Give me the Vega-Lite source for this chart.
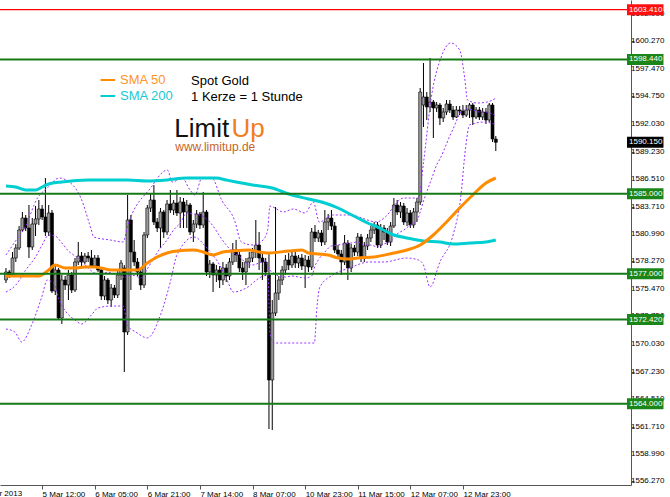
{
  "$schema": "https://vega.github.io/schema/vega-lite/v6.json",
  "width": 631,
  "height": 485,
  "autosize": {"type": "none"},
  "padding": {"left": 0, "top": 0, "right": 39, "bottom": 12},
  "background": "white",
  "config": {"view": {"stroke": null}, "font": "Liberation Sans", "axis": {"labelOverlap": false, "labelBound": false, "labelFlush": false}},
  "resolve": {"scale": {"color": "independent"}},
  "datasets": {
    "candles": [
      {"i":0,"o":1576.38,"h":1577.58,"l":1576.08,"c":1577.18},
      {"i":1,"o":1577.18,"h":1577.38,"l":1576.58,"c":1576.88},
      {"i":2,"o":1576.88,"h":1579.18,"l":1576.68,"c":1578.58},
      {"i":3,"o":1578.58,"h":1579.98,"l":1578.18,"c":1579.58},
      {"i":4,"o":1579.58,"h":1581.78,"l":1579.38,"c":1581.38},
      {"i":5,"o":1581.38,"h":1583.18,"l":1581.18,"c":1582.58},
      {"i":6,"o":1582.58,"h":1582.88,"l":1581.28,"c":1581.58},
      {"i":7,"o":1581.58,"h":1583.88,"l":1578.58,"c":1579.68},
      {"i":8,"o":1579.68,"h":1582.58,"l":1579.38,"c":1581.98},
      {"i":9,"o":1581.98,"h":1583.78,"l":1580.78,"c":1582.48},
      {"i":10,"o":1582.48,"h":1584.38,"l":1581.88,"c":1583.48},
      {"i":11,"o":1583.48,"h":1583.88,"l":1582.38,"c":1582.68},
      {"i":12,"o":1582.68,"h":1586.58,"l":1580.78,"c":1581.18},
      {"i":13,"o":1581.18,"h":1583.88,"l":1580.78,"c":1583.08},
      {"i":14,"o":1583.08,"h":1583.38,"l":1575.08,"c":1575.28},
      {"i":15,"o":1575.28,"h":1577.78,"l":1574.88,"c":1577.38},
      {"i":16,"o":1577.38,"h":1577.58,"l":1572.38,"c":1572.58},
      {"i":17,"o":1572.58,"h":1576.88,"l":1571.98,"c":1576.38},
      {"i":18,"o":1576.38,"h":1576.78,"l":1575.38,"c":1575.88},
      {"i":19,"o":1575.88,"h":1577.38,"l":1574.38,"c":1576.88},
      {"i":20,"o":1576.88,"h":1577.18,"l":1575.08,"c":1575.38},
      {"i":21,"o":1575.38,"h":1578.58,"l":1575.18,"c":1578.18},
      {"i":22,"o":1578.18,"h":1580.18,"l":1577.88,"c":1578.78},
      {"i":23,"o":1578.78,"h":1579.18,"l":1577.78,"c":1578.18},
      {"i":24,"o":1578.18,"h":1579.08,"l":1577.98,"c":1578.78},
      {"i":25,"o":1578.78,"h":1579.18,"l":1578.18,"c":1578.58},
      {"i":26,"o":1578.58,"h":1579.38,"l":1577.58,"c":1577.78},
      {"i":27,"o":1577.78,"h":1578.88,"l":1577.58,"c":1578.58},
      {"i":28,"o":1578.58,"h":1578.88,"l":1577.18,"c":1577.38},
      {"i":29,"o":1577.38,"h":1577.58,"l":1574.38,"c":1574.78},
      {"i":30,"o":1574.78,"h":1576.78,"l":1574.38,"c":1576.38},
      {"i":31,"o":1576.38,"h":1576.58,"l":1573.98,"c":1574.38},
      {"i":32,"o":1574.38,"h":1575.98,"l":1573.68,"c":1575.58},
      {"i":33,"o":1575.58,"h":1575.88,"l":1574.58,"c":1574.88},
      {"i":34,"o":1574.88,"h":1577.38,"l":1574.58,"c":1576.88},
      {"i":35,"o":1576.88,"h":1578.38,"l":1576.38,"c":1578.08},
      {"i":36,"o":1577.58,"h":1577.88,"l":1567.18,"c":1571.18},
      {"i":37,"o":1571.18,"h":1584.88,"l":1570.88,"c":1582.38},
      {"i":38,"o":1582.38,"h":1582.88,"l":1575.38,"c":1579.18},
      {"i":39,"o":1579.18,"h":1580.38,"l":1577.78,"c":1578.18},
      {"i":40,"o":1578.18,"h":1578.58,"l":1576.78,"c":1577.18},
      {"i":41,"o":1577.18,"h":1577.58,"l":1575.38,"c":1575.88},
      {"i":42,"o":1575.88,"h":1581.18,"l":1575.58,"c":1580.88},
      {"i":43,"o":1580.88,"h":1583.88,"l":1580.58,"c":1583.58},
      {"i":44,"o":1583.58,"h":1585.08,"l":1583.18,"c":1584.38},
      {"i":45,"o":1584.38,"h":1585.88,"l":1581.88,"c":1582.18},
      {"i":46,"o":1582.18,"h":1582.58,"l":1581.18,"c":1581.58},
      {"i":47,"o":1581.58,"h":1583.58,"l":1579.58,"c":1583.18},
      {"i":48,"o":1583.18,"h":1583.38,"l":1580.58,"c":1581.18},
      {"i":49,"o":1581.18,"h":1584.38,"l":1580.88,"c":1583.98},
      {"i":50,"o":1583.98,"h":1585.38,"l":1583.08,"c":1583.38},
      {"i":51,"o":1583.38,"h":1584.38,"l":1582.88,"c":1584.08},
      {"i":52,"o":1584.08,"h":1585.38,"l":1582.78,"c":1583.08},
      {"i":53,"o":1583.08,"h":1584.68,"l":1581.58,"c":1584.18},
      {"i":54,"o":1584.18,"h":1584.58,"l":1581.58,"c":1583.18},
      {"i":55,"o":1583.18,"h":1584.38,"l":1581.58,"c":1583.88},
      {"i":56,"o":1583.88,"h":1584.08,"l":1580.88,"c":1581.18},
      {"i":57,"o":1581.18,"h":1582.38,"l":1580.18,"c":1581.98},
      {"i":58,"o":1581.98,"h":1583.38,"l":1581.58,"c":1582.98},
      {"i":59,"o":1582.98,"h":1583.18,"l":1581.48,"c":1581.88},
      {"i":60,"o":1581.88,"h":1585.18,"l":1581.58,"c":1583.18},
      {"i":61,"o":1583.18,"h":1583.38,"l":1576.78,"c":1577.18},
      {"i":62,"o":1577.18,"h":1578.38,"l":1576.58,"c":1577.98},
      {"i":63,"o":1577.98,"h":1578.18,"l":1575.18,"c":1576.88},
      {"i":64,"o":1576.88,"h":1577.88,"l":1576.18,"c":1577.38},
      {"i":65,"o":1577.38,"h":1577.78,"l":1575.58,"c":1576.38},
      {"i":66,"o":1576.38,"h":1578.18,"l":1575.88,"c":1577.58},
      {"i":67,"o":1577.58,"h":1577.98,"l":1576.18,"c":1576.78},
      {"i":68,"o":1576.78,"h":1578.58,"l":1576.38,"c":1578.18},
      {"i":69,"o":1578.18,"h":1580.08,"l":1577.88,"c":1579.38},
      {"i":70,"o":1579.38,"h":1580.38,"l":1578.18,"c":1578.88},
      {"i":71,"o":1578.88,"h":1579.38,"l":1577.18,"c":1577.58},
      {"i":72,"o":1577.58,"h":1578.18,"l":1576.38,"c":1577.18},
      {"i":73,"o":1577.18,"h":1578.58,"l":1575.88,"c":1578.18},
      {"i":74,"o":1578.18,"h":1579.18,"l":1577.58,"c":1578.58},
      {"i":75,"o":1578.58,"h":1579.58,"l":1578.18,"c":1579.18},
      {"i":76,"o":1579.18,"h":1582.38,"l":1578.58,"c":1579.88},
      {"i":77,"o":1579.88,"h":1581.18,"l":1577.38,"c":1578.58},
      {"i":78,"o":1578.58,"h":1578.98,"l":1576.38,"c":1578.18},
      {"i":79,"o":1578.18,"h":1578.58,"l":1576.78,"c":1577.18},
      {"i":80,"o":1576.88,"h":1579.08,"l":1561.48,"c":1566.38},
      {"i":81,"o":1566.38,"h":1574.38,"l":1561.38,"c":1573.08},
      {"i":82,"o":1573.08,"h":1583.68,"l":1572.78,"c":1575.08},
      {"i":83,"o":1575.08,"h":1576.78,"l":1574.38,"c":1576.38},
      {"i":84,"o":1576.38,"h":1577.78,"l":1575.88,"c":1577.38},
      {"i":85,"o":1577.38,"h":1578.88,"l":1576.88,"c":1578.38},
      {"i":86,"o":1578.38,"h":1579.08,"l":1577.38,"c":1577.88},
      {"i":87,"o":1577.88,"h":1579.18,"l":1577.58,"c":1578.78},
      {"i":88,"o":1578.78,"h":1579.18,"l":1577.58,"c":1578.08},
      {"i":89,"o":1578.08,"h":1578.88,"l":1577.58,"c":1578.58},
      {"i":90,"o":1578.58,"h":1578.98,"l":1577.38,"c":1577.78},
      {"i":91,"o":1577.78,"h":1578.88,"l":1575.58,"c":1578.38},
      {"i":92,"o":1578.38,"h":1578.78,"l":1577.18,"c":1577.68},
      {"i":93,"o":1577.68,"h":1581.58,"l":1577.38,"c":1581.18},
      {"i":94,"o":1581.18,"h":1581.88,"l":1580.18,"c":1580.58},
      {"i":95,"o":1580.58,"h":1581.38,"l":1580.18,"c":1581.08},
      {"i":96,"o":1581.08,"h":1581.38,"l":1579.78,"c":1580.18},
      {"i":97,"o":1580.18,"h":1583.38,"l":1579.88,"c":1582.18},
      {"i":98,"o":1582.18,"h":1582.98,"l":1581.38,"c":1582.58},
      {"i":99,"o":1582.58,"h":1583.38,"l":1581.38,"c":1581.78},
      {"i":100,"o":1581.78,"h":1582.18,"l":1579.08,"c":1579.38},
      {"i":101,"o":1579.38,"h":1579.88,"l":1578.58,"c":1578.98},
      {"i":102,"o":1578.98,"h":1579.38,"l":1576.88,"c":1578.18},
      {"i":103,"o":1578.18,"h":1580.88,"l":1577.88,"c":1580.08},
      {"i":104,"o":1580.08,"h":1580.38,"l":1576.38,"c":1577.58},
      {"i":105,"o":1577.58,"h":1579.98,"l":1577.18,"c":1579.58},
      {"i":106,"o":1579.58,"h":1579.88,"l":1578.78,"c":1579.18},
      {"i":107,"o":1579.18,"h":1581.08,"l":1578.78,"c":1580.68},
      {"i":108,"o":1580.68,"h":1580.98,"l":1578.18,"c":1578.58},
      {"i":109,"o":1578.58,"h":1580.18,"l":1578.18,"c":1579.78},
      {"i":110,"o":1579.78,"h":1580.98,"l":1579.38,"c":1580.58},
      {"i":111,"o":1580.58,"h":1581.78,"l":1580.18,"c":1581.38},
      {"i":112,"o":1581.38,"h":1582.18,"l":1580.98,"c":1581.88},
      {"i":113,"o":1581.88,"h":1582.18,"l":1579.58,"c":1579.88},
      {"i":114,"o":1579.88,"h":1581.98,"l":1579.58,"c":1581.58},
      {"i":115,"o":1581.58,"h":1581.88,"l":1580.38,"c":1581.18},
      {"i":116,"o":1581.18,"h":1581.58,"l":1579.88,"c":1580.18},
      {"i":117,"o":1580.18,"h":1582.18,"l":1579.78,"c":1581.78},
      {"i":118,"o":1581.78,"h":1584.58,"l":1581.58,"c":1583.88},
      {"i":119,"o":1583.88,"h":1584.38,"l":1582.88,"c":1583.18},
      {"i":120,"o":1583.18,"h":1584.18,"l":1582.58,"c":1583.78},
      {"i":121,"o":1583.78,"h":1584.08,"l":1581.88,"c":1582.18},
      {"i":122,"o":1582.18,"h":1583.58,"l":1581.78,"c":1583.08},
      {"i":123,"o":1583.08,"h":1583.38,"l":1581.58,"c":1581.88},
      {"i":124,"o":1581.88,"h":1583.58,"l":1581.58,"c":1583.18},
      {"i":125,"o":1583.18,"h":1584.58,"l":1582.18,"c":1584.18},
      {"i":126,"o":1584.18,"h":1595.58,"l":1583.88,"c":1595.18},
      {"i":127,"o":1593.88,"h":1598.08,"l":1591.68,"c":1594.68},
      {"i":128,"o":1594.68,"h":1595.18,"l":1592.38,"c":1593.68},
      {"i":129,"o":1593.68,"h":1598.58,"l":1593.18,"c":1594.18},
      {"i":130,"o":1594.18,"h":1594.38,"l":1590.58,"c":1593.58},
      {"i":131,"o":1593.58,"h":1594.18,"l":1593.18,"c":1593.88},
      {"i":132,"o":1593.88,"h":1594.08,"l":1591.88,"c":1592.58},
      {"i":133,"o":1592.58,"h":1593.58,"l":1592.18,"c":1593.18},
      {"i":134,"o":1593.18,"h":1594.38,"l":1592.88,"c":1593.98},
      {"i":135,"o":1593.98,"h":1594.38,"l":1593.08,"c":1593.38},
      {"i":136,"o":1593.38,"h":1593.78,"l":1592.38,"c":1592.68},
      {"i":137,"o":1592.68,"h":1593.78,"l":1592.58,"c":1593.38},
      {"i":138,"o":1593.38,"h":1593.78,"l":1592.88,"c":1593.28},
      {"i":139,"o":1593.28,"h":1593.88,"l":1592.58,"c":1592.88},
      {"i":140,"o":1592.88,"h":1593.88,"l":1592.68,"c":1593.38},
      {"i":141,"o":1593.38,"h":1594.08,"l":1592.58,"c":1593.88},
      {"i":142,"o":1593.88,"h":1594.08,"l":1591.88,"c":1592.68},
      {"i":143,"o":1592.68,"h":1593.68,"l":1592.48,"c":1593.38},
      {"i":144,"o":1593.38,"h":1593.68,"l":1592.38,"c":1592.68},
      {"i":145,"o":1592.68,"h":1593.58,"l":1592.38,"c":1593.18},
      {"i":146,"o":1593.18,"h":1593.58,"l":1591.98,"c":1592.38},
      {"i":147,"o":1592.38,"h":1594.08,"l":1592.18,"c":1593.88},
      {"i":148,"o":1593.88,"h":1594.08,"l":1590.18,"c":1590.48},
      {"i":149,"o":1590.48,"h":1590.78,"l":1589.28,"c":1590.15}
    ],
    "sma50": [
      {"i":0,"v":1576.78},{"i":10,"v":1576.78},{"i":13,"v":1577.38},{"i":15,"v":1577.88},{"i":18,"v":1577.58},
      {"i":21,"v":1577.58},{"i":24,"v":1577.68},{"i":27,"v":1577.68},{"i":29,"v":1577.58},{"i":32,"v":1577.38},
      {"i":37,"v":1577.38},{"i":40,"v":1577.38},{"i":43,"v":1578.08},{"i":46,"v":1578.68},{"i":49,"v":1579.08},
      {"i":52,"v":1579.28},{"i":57,"v":1579.38},{"i":60,"v":1579.18},{"i":63,"v":1578.88},{"i":66,"v":1579.18},
      {"i":69,"v":1579.28},{"i":74,"v":1579.38},{"i":77,"v":1579.18},{"i":80,"v":1579.08},{"i":86,"v":1579.28},
      {"i":90,"v":1579.38},{"i":92,"v":1579.08},{"i":98,"v":1578.88},{"i":101,"v":1578.58},{"i":104,"v":1578.48},
      {"i":107,"v":1578.58},{"i":112,"v":1578.68},{"i":118,"v":1579.08},{"i":122,"v":1579.38},{"i":126,"v":1579.88},
      {"i":130,"v":1580.88},{"i":134,"v":1582.18},{"i":138,"v":1583.58},{"i":142,"v":1584.88},{"i":146,"v":1586.08},
      {"i":149,"v":1586.58}
    ],
    "sma200": [
      {"i":0,"v":1585.78},{"i":3,"v":1585.68},{"i":6,"v":1585.38},{"i":9,"v":1585.38},{"i":11,"v":1585.68},
      {"i":13,"v":1585.98},{"i":17,"v":1586.18},{"i":20,"v":1586.28},{"i":25,"v":1586.38},{"i":32,"v":1586.38},
      {"i":37,"v":1586.38},{"i":43,"v":1586.28},{"i":49,"v":1586.38},{"i":55,"v":1586.58},{"i":61,"v":1586.58},
      {"i":64,"v":1586.58},{"i":67,"v":1586.38},{"i":70,"v":1586.18},{"i":75,"v":1585.88},{"i":81,"v":1585.58},
      {"i":86,"v":1584.98},{"i":92,"v":1584.48},{"i":97,"v":1584.08},{"i":101,"v":1583.58},{"i":104,"v":1583.08},
      {"i":107,"v":1582.58},{"i":110,"v":1582.08},{"i":113,"v":1581.68},{"i":118,"v":1580.88},{"i":122,"v":1580.58},
      {"i":127,"v":1580.28},{"i":132,"v":1580.18},{"i":136,"v":1579.98},{"i":141,"v":1580.08},{"i":146,"v":1580.18},
      {"i":149,"v":1580.38}
    ],
    "bands": [
      {"b":"upper","i":0,"v":1578.88},{"b":"upper","i":2.7,"v":1580.18},{"b":"upper","i":5.7,"v":1581.58},{"b":"upper","i":9.6,"v":1584.58},
      {"b":"upper","i":12.6,"v":1585.58},{"b":"upper","i":16.2,"v":1586.58},{"b":"upper","i":18.3,"v":1586.38},{"b":"upper","i":22.8,"v":1584.58},
      {"b":"upper","i":25.8,"v":1581.58},{"b":"upper","i":26.7,"v":1580.68},{"b":"upper","i":31.7,"v":1580.38},{"b":"upper","i":35.6,"v":1580.18},
      {"b":"upper","i":37.1,"v":1581.88},{"b":"upper","i":44,"v":1585.58},{"b":"upper","i":49.1,"v":1587.38},{"b":"upper","i":50.6,"v":1586.18},
      {"b":"upper","i":53.6,"v":1586.58},{"b":"upper","i":56,"v":1585.38},{"b":"upper","i":57.5,"v":1584.88},{"b":"upper","i":59.6,"v":1586.58},
      {"b":"upper","i":62.6,"v":1586.58},{"b":"upper","i":65.6,"v":1584.38},{"b":"upper","i":69.5,"v":1582.38},{"b":"upper","i":71.6,"v":1580.18},
      {"b":"upper","i":75.2,"v":1579.88},{"b":"upper","i":78.2,"v":1580.38},{"b":"upper","i":79.6,"v":1581.38},{"b":"upper","i":80.3,"v":1583.78},
      {"b":"upper","i":81.2,"v":1583.68},{"b":"upper","i":84.4,"v":1583.18},{"b":"upper","i":87.4,"v":1583.48},{"b":"upper","i":91,"v":1583.08},
      {"b":"upper","i":93.5,"v":1584.18},{"b":"upper","i":95.3,"v":1582.18},{"b":"upper","i":99.4,"v":1582.88},{"b":"upper","i":104.5,"v":1582.88},
      {"b":"upper","i":112.9,"v":1582.18},{"b":"upper","i":115,"v":1582.58},{"b":"upper","i":121,"v":1584.58},{"b":"upper","i":125.5,"v":1584.58},
      {"b":"upper","i":127,"v":1588.08},{"b":"upper","i":129.4,"v":1594.68},{"b":"upper","i":132.4,"v":1598.68},{"b":"upper","i":135.3,"v":1600.08},
      {"b":"upper","i":138,"v":1599.38},{"b":"upper","i":139.5,"v":1596.68},{"b":"upper","i":140.4,"v":1594.38},{"b":"upper","i":143.4,"v":1594.08},
      {"b":"upper","i":146.4,"v":1594.18},{"b":"upper","i":149.1,"v":1594.58},
      {"b":"lower","i":0,"v":1571.48},{"b":"lower","i":2.7,"v":1571.18},{"b":"lower","i":4.8,"v":1570.18},{"b":"lower","i":7.8,"v":1571.88},
      {"b":"lower","i":10.8,"v":1574.58},{"b":"lower","i":12.6,"v":1576.38},{"b":"lower","i":14.5,"v":1576.08},{"b":"lower","i":16.2,"v":1574.38},
      {"b":"lower","i":18.3,"v":1573.18},{"b":"lower","i":21,"v":1572.38},{"b":"lower","i":23,"v":1571.98},{"b":"lower","i":26,"v":1572.88},
      {"b":"lower","i":28,"v":1573.58},{"b":"lower","i":32,"v":1573.78},{"b":"lower","i":35.6,"v":1573.78},{"b":"lower","i":37.1,"v":1571.78},
      {"b":"lower","i":39.5,"v":1571.18},{"b":"lower","i":43,"v":1570.58},{"b":"lower","i":47,"v":1572.88},{"b":"lower","i":50,"v":1576.18},
      {"b":"lower","i":52,"v":1578.88},{"b":"lower","i":57.2,"v":1580.68},{"b":"lower","i":61.1,"v":1579.58},{"b":"lower","i":65,"v":1577.88},
      {"b":"lower","i":67,"v":1576.58},{"b":"lower","i":69.2,"v":1575.18},{"b":"lower","i":73.1,"v":1575.58},{"b":"lower","i":77.6,"v":1576.68},
      {"b":"lower","i":79.7,"v":1576.88},{"b":"lower","i":80.3,"v":1571.08},{"b":"lower","i":81.5,"v":1570.08},{"b":"lower","i":93.8,"v":1570.08},
      {"b":"lower","i":94.6,"v":1573.68},{"b":"lower","i":95.5,"v":1575.68},{"b":"lower","i":99.4,"v":1576.88},{"b":"lower","i":104.5,"v":1577.58},
      {"b":"lower","i":110.5,"v":1578.18},{"b":"lower","i":115,"v":1578.18},{"b":"lower","i":121.9,"v":1578.58},{"b":"lower","i":125.5,"v":1578.38},
      {"b":"lower","i":127,"v":1577.88},{"b":"lower","i":129,"v":1575.68},{"b":"lower","i":132,"v":1578.18},{"b":"lower","i":136,"v":1580.88},
      {"b":"lower","i":138.3,"v":1584.58},{"b":"lower","i":139.8,"v":1589.58},{"b":"lower","i":141,"v":1591.88},{"b":"lower","i":145.8,"v":1592.18},
      {"b":"lower","i":149.1,"v":1591.88},
      {"b":"mid","i":0,"v":1575.18},{"b":"mid","i":3,"v":1575.88},{"b":"mid","i":6,"v":1577.38},{"b":"mid","i":9,"v":1578.68},
      {"b":"mid","i":11,"v":1579.88},{"b":"mid","i":13,"v":1580.88},{"b":"mid","i":15,"v":1580.78},{"b":"mid","i":17,"v":1580.08},
      {"b":"mid","i":19,"v":1579.28},{"b":"mid","i":21,"v":1578.78},{"b":"mid","i":23,"v":1578.28},{"b":"mid","i":25,"v":1577.58},
      {"b":"mid","i":27,"v":1577.08},{"b":"mid","i":29,"v":1576.98},{"b":"mid","i":31,"v":1577.18},{"b":"mid","i":33,"v":1576.98},
      {"b":"mid","i":35,"v":1577.08},{"b":"mid","i":36,"v":1576.58},{"b":"mid","i":37,"v":1576.83},{"b":"mid","i":39,"v":1576.83},
      {"b":"mid","i":41,"v":1576.58},{"b":"mid","i":43,"v":1577.48},{"b":"mid","i":45,"v":1578.58},{"b":"mid","i":47,"v":1579.58},
      {"b":"mid","i":49,"v":1580.38},{"b":"mid","i":51,"v":1581.38},{"b":"mid","i":53,"v":1582.08},{"b":"mid","i":55,"v":1583.08},
      {"b":"mid","i":57,"v":1582.98},{"b":"mid","i":59,"v":1582.88},{"b":"mid","i":61,"v":1582.48},{"b":"mid","i":63,"v":1581.78},
      {"b":"mid","i":65,"v":1580.78},{"b":"mid","i":67,"v":1579.88},{"b":"mid","i":69,"v":1579.18},{"b":"mid","i":71,"v":1578.73},
      {"b":"mid","i":73,"v":1578.08},{"b":"mid","i":75,"v":1577.88},{"b":"mid","i":77,"v":1578.08},{"b":"mid","i":79,"v":1578.28},
      {"b":"mid","i":80,"v":1577.48},{"b":"mid","i":81,"v":1577.18},{"b":"mid","i":83,"v":1576.78},{"b":"mid","i":85,"v":1576.68},
      {"b":"mid","i":87,"v":1576.78},{"b":"mid","i":89,"v":1576.68},{"b":"mid","i":91,"v":1576.58},{"b":"mid","i":93,"v":1576.78},
      {"b":"mid","i":94,"v":1577.78},{"b":"mid","i":95,"v":1578.38},{"b":"mid","i":97,"v":1579.18},{"b":"mid","i":99,"v":1579.78},
      {"b":"mid","i":101,"v":1579.88},{"b":"mid","i":103,"v":1579.98},{"b":"mid","i":105,"v":1580.08},{"b":"mid","i":107,"v":1580.18},
      {"b":"mid","i":109,"v":1579.88},{"b":"mid","i":111,"v":1579.88},{"b":"mid","i":113,"v":1579.68},{"b":"mid","i":115,"v":1579.98},
      {"b":"mid","i":117,"v":1580.28},{"b":"mid","i":119,"v":1580.98},{"b":"mid","i":121,"v":1581.38},{"b":"mid","i":123,"v":1581.88},
      {"b":"mid","i":125,"v":1582.28},{"b":"mid","i":126,"v":1583.18},{"b":"mid","i":127,"v":1584.28},{"b":"mid","i":128,"v":1585.18},
      {"b":"mid","i":129,"v":1586.08},{"b":"mid","i":130,"v":1586.98},{"b":"mid","i":131,"v":1587.88},{"b":"mid","i":132,"v":1588.48},
      {"b":"mid","i":133,"v":1589.18},{"b":"mid","i":134,"v":1589.98},{"b":"mid","i":135,"v":1590.78},{"b":"mid","i":136,"v":1591.48},
      {"b":"mid","i":137,"v":1592.28},{"b":"mid","i":138,"v":1592.98},{"b":"mid","i":139,"v":1593.38},{"b":"mid","i":140,"v":1593.48},
      {"b":"mid","i":142,"v":1593.38},{"b":"mid","i":144,"v":1593.18},{"b":"mid","i":146,"v":1593.18},{"b":"mid","i":148,"v":1592.98},
      {"b":"mid","i":149,"v":1592.78}
    ],
    "levels": [
      {"v":1603.41,"kind":"red"},
      {"v":1598.44,"kind":"green"},
      {"v":1585.0,"kind":"green"},
      {"v":1577.0,"kind":"green"},
      {"v":1572.42,"kind":"green"},
      {"v":1564.0,"kind":"green"},
      {"v":1590.15,"kind":"price"}
    ],
    "yticks": [
      {"v":1556.27},{"v":1558.99},{"v":1561.71},{"v":1564.51},{"v":1567.23},{"v":1570.03},{"v":1572.75},{"v":1575.47},{"v":1578.27},
      {"v":1580.99},{"v":1583.71},{"v":1586.51},{"v":1589.23},{"v":1592.03},{"v":1594.75},{"v":1597.47},{"v":1600.27},{"v":1602.99}
    ]
  },
  "layer": [
    {
      "data": {"name": "candles"},
      "mark": {"type": "rule", "color": "#000000", "strokeWidth": 1},
      "encoding": {
        "x": {"field": "i", "type": "quantitative", "scale": {"domain": [-0.29, 188.6], "nice": false, "zero": false},
          "axis": {"values": [11, 27, 43, 59, 75, 91, 107, 123, 139],
            "labelExpr": "['5 Mar 12:00','6 Mar 05:00','6 Mar 21:00','7 Mar 14:00','8 Mar 07:00','10 Mar 23:00','11 Mar 15:00','12 Mar 07:00','12 Mar 23:00'][(datum.value-11)/16]",
            "title": null, "grid": false, "labelAlign": "left", "labelBaseline": "top", "labelPadding": 1, "labelFontSize": 8, "labelColor": "#000000",
            "labelFont": "Liberation Sans", "tickSize": 4, "tickColor": "#555555", "domainColor": "#555555", "labelOverlap": false, "labelBound": false, "labelFlush": false}},
        "y": {"field": "l", "type": "quantitative", "scale": {"domain": [1555.88, 1604.38], "nice": false, "zero": false},
          "axis": {"orient": "right", "values": [1556.27, 1558.99, 1561.71, 1564.51, 1567.23, 1570.03, 1572.75, 1575.47, 1578.27, 1580.99, 1583.71, 1586.51, 1589.23, 1592.03, 1594.75, 1597.47, 1600.27, 1602.99],
            "labels": false, "title": null, "grid": false, "tickSize": 3, "tickColor": "#555555", "domainColor": "#555555"}},
        "y2": {"field": "h"}
      }
    },
    {
      "data": {"name": "yticks"},
      "mark": {"type": "text", "align": "left", "baseline": "middle", "fontSize": 8, "font": "Liberation Sans", "color": "#000000", "dx": 5},
      "encoding": {
        "x": {"datum": 188.6, "type": "quantitative", "title": null},
        "y": {"field": "v", "type": "quantitative", "title": null},
        "text": {"field": "v", "type": "quantitative", "format": ".3f"}
      }
    },
    {
      "data": {"values": [{"t": "4 Mar 2013", "x": -7.4, "y": 1555.88}]},
      "mark": {"type": "text", "align": "left", "baseline": "top", "fontSize": 8, "font": "Liberation Sans", "color": "#000000", "dy": 5},
      "encoding": {
        "x": {"field": "x", "type": "quantitative", "title": null},
        "y": {"field": "y", "type": "quantitative", "title": null},
        "text": {"field": "t"}
      }
    },
    {
      "data": {"name": "candles"},
      "mark": {"type": "bar", "size": 3, "stroke": "#000000", "strokeWidth": 0.6},
      "encoding": {
        "x": {"field": "i", "type": "quantitative", "title": null},
        "y": {"field": "o", "type": "quantitative", "title": null},
        "y2": {"field": "c"},
        "color": {"condition": {"test": "datum.c >= datum.o", "value": "#9a9a9a"}, "value": "#000000"}
      }
    },
    {
      "data": {"name": "bands"},
      "mark": {"type": "line", "color": "#9b30ff", "strokeWidth": 1, "strokeDash": [2, 2], "interpolate": "monotone"},
      "encoding": {
        "x": {"field": "i", "type": "quantitative", "title": null},
        "y": {"field": "v", "type": "quantitative", "title": null},
        "detail": {"field": "b"}
      }
    },
    {
      "data": {"name": "sma200"},
      "mark": {"type": "line", "color": "#00CED1", "strokeWidth": 3, "interpolate": "monotone"},
      "encoding": {
        "x": {"field": "i", "type": "quantitative", "title": null},
        "y": {"field": "v", "type": "quantitative", "title": null}
      }
    },
    {
      "data": {"name": "sma50"},
      "mark": {"type": "line", "color": "#FF8C00", "strokeWidth": 3, "interpolate": "monotone"},
      "encoding": {
        "x": {"field": "i", "type": "quantitative", "title": null},
        "y": {"field": "v", "type": "quantitative", "title": null}
      }
    },
    {
      "data": {"name": "levels"},
      "transform": [{"filter": "datum.kind == 'green'"}],
      "mark": {"type": "rule", "color": "#157a15", "strokeWidth": 2},
      "encoding": {
        "y": {"field": "v", "type": "quantitative", "title": null}
      }
    },
    {
      "data": {"name": "levels"},
      "transform": [{"filter": "datum.kind == 'red'"}],
      "mark": {"type": "rule", "color": "#ff0000", "strokeWidth": 1.2},
      "encoding": {
        "y": {"field": "v", "type": "quantitative", "title": null}
      }
    },
    {
      "data": {"name": "levels"},
      "mark": {"type": "rect", "yOffset": -5.5, "y2Offset": 5.5},
      "encoding": {
        "x": {"datum": 188.9, "type": "quantitative", "title": null},
        "x2": {"datum": 200},
        "y": {"field": "v", "type": "quantitative", "title": null},
        "y2": {"field": "v"},
        "color": {"field": "kind", "type": "nominal", "scale": {"domain": ["red", "green", "price"], "range": ["#ff1010", "#1a861a", "#000000"]}, "legend": null}
      }
    },
    {
      "data": {"name": "levels"},
      "mark": {"type": "text", "align": "left", "baseline": "middle", "fontSize": 8, "font": "Liberation Sans", "color": "#ffffff", "dx": 2},
      "encoding": {
        "x": {"datum": 188.9, "type": "quantitative", "title": null},
        "y": {"field": "v", "type": "quantitative", "title": null},
        "text": {"field": "v", "type": "quantitative", "format": ".3f"}
      }
    },
    {
      "data": {"values": [
        {"name": "SMA 50", "x1": 28.75, "x2": 33.2, "y": 1596.38},
        {"name": "SMA 200", "x1": 28.75, "x2": 33.2, "y": 1594.78}
      ]},
      "mark": {"type": "rule", "strokeWidth": 2},
      "encoding": {
        "x": {"field": "x1", "type": "quantitative", "title": null},
        "x2": {"field": "x2"},
        "y": {"field": "y", "type": "quantitative", "title": null},
        "color": {"field": "name", "type": "nominal", "scale": {"domain": ["SMA 50", "SMA 200"], "range": ["#FF8C00", "#00CED1"]}, "legend": null}
      }
    },
    {
      "data": {"values": [
        {"t": "SMA 50", "x": 34.7, "y": 1596.38, "g": "o"},
        {"t": "SMA 200", "x": 34.7, "y": 1594.78, "g": "c"},
        {"t": "Spot Gold", "x": 56.3, "y": 1596.28, "g": "k"},
        {"t": "1 Kerze = 1 Stunde", "x": 56.3, "y": 1594.68, "g": "k"}
      ]},
      "mark": {"type": "text", "align": "left", "baseline": "middle", "fontSize": 13, "font": "Liberation Sans"},
      "encoding": {
        "x": {"field": "x", "type": "quantitative", "title": null},
        "y": {"field": "y", "type": "quantitative", "title": null},
        "text": {"field": "t"},
        "color": {"field": "g", "type": "nominal", "scale": {"domain": ["o", "c", "k"], "range": ["#FF9526", "#19C9D4", "#000000"]}, "legend": null}
      }
    },
    {
      "data": {"values": [
        {"t": "Limit", "x": 51.2, "y": 1590.68, "g": "k"},
        {"t": "Up", "x": 68.6, "y": 1590.68, "g": "o"}
      ]},
      "mark": {"type": "text", "align": "left", "baseline": "alphabetic", "fontSize": 26, "font": "Liberation Sans"},
      "encoding": {
        "x": {"field": "x", "type": "quantitative", "title": null},
        "y": {"field": "y", "type": "quantitative", "title": null},
        "text": {"field": "t"},
        "color": {"field": "g", "type": "nominal", "scale": {"domain": ["o", "k"], "range": ["#F07D1E", "#111111"]}, "legend": null}
      }
    },
    {
      "data": {"values": [{"t": "www.limitup.de", "x": 51.5, "y": 1589.68}]},
      "mark": {"type": "text", "align": "left", "baseline": "middle", "fontSize": 12, "font": "Liberation Sans", "color": "#C8641E"},
      "encoding": {
        "x": {"field": "x", "type": "quantitative", "title": null},
        "y": {"field": "y", "type": "quantitative", "title": null},
        "text": {"field": "t"}
      }
    }
  ]
}
